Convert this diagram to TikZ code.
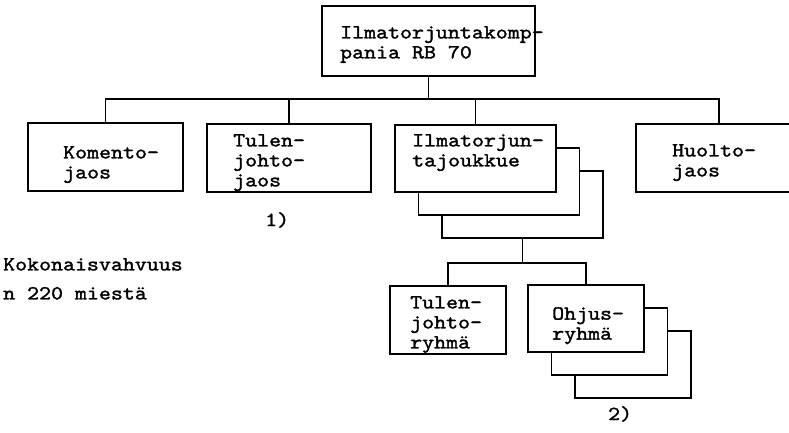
\documentclass[tikz,border=0pt]{standalone}
\usepackage{fontspec}
\setmonofont{lmmono10-regular.otf}[FakeStretch=1.14,FakeBold=1.5]
\begin{document}
\begin{tikzpicture}[x=1pt, y=-1pt,
    unit/.style={draw, fill=white, line width=1.4pt, outer sep=0pt, inner sep=0pt,
      anchor=north west, minimum height=68pt},
    link/.style={line width=1.4pt},
    txt/.style={font=\ttfamily\fontsize{20}{20}\selectfont, align=left,
      anchor=north west, inner sep=0pt},
  ]
  \useasboundingbox (0,0) rectangle (789,432);
  \clip (0,0) rectangle (789,432);

  \def\dx{23.5} % offset of the stacked boxes
  \def\dy{23}

  % --- Company ---
  \node[unit, minimum width=213pt, minimum height=70pt] (kompania) at (322,6) {};
  \node[txt] (kompaniaT) at (340,26) {Ilmatorjuntakomp-\\pania RB 70};

  % --- Sections ---
  \node[unit, minimum width=155pt] (komento) at (28,123) {};
  \node[txt] (komentoT) at (63,146) {Komento-\\jaos};

  \node[unit, minimum width=164pt] (tulenjaos) at (207,124) {};
  \node[txt] (tulenjaosT) at (233,134) {Tulen-\\johto-\\jaos};

  \foreach \i in {2,1} {
    \node[unit, minimum width=161pt, minimum height=67pt] (joukkue\i)
      at (395+\i*\dx, 125+\i*\dy) {};
  }
  \node[unit, minimum width=161pt, minimum height=67pt] (joukkue) at (395,125) {};
  \node[txt] (joukkueT) at (412,134) {Ilmatorjun-\\tajoukkue};

  \node[unit, minimum width=166pt] (huolto) at (636,124) {};
  \node[txt] (huoltoT) at (672,144) {Huolto-\\jaos};

  % Links to the company
  \coordinate (busA) at (0,99);
  \draw[link] (kompania.south) -- (kompania.south |- busA);
  \draw[link] (komento.north) -- (komento.north |- busA)
    -- (huolto.north |- busA) -- (huolto.north);
  \draw[link] (tulenjaos.north) -- (tulenjaos.north |- busA);
  \draw[link] (joukkue.north) -- (joukkue.north |- busA);

  % --- Platoon ---
  \node[unit, minimum width=116pt] (ryhma) at (390,286) {};
  \node[txt] (ryhmaT) at (410,296) {Tulen-\\johto-\\ryhmä};

  \foreach \i in {2,1} {
    \node[unit, minimum width=116pt, minimum height=67pt] (ohjus\i)
      at (528+\i*\dx, 285+\i*\dy) {};
  }
  \node[unit, minimum width=116pt, minimum height=67pt] (ohjus) at (528,285) {};
  \node[txt] (ohjusT) at (552,307) {Ohjus-\\ryhmä};

  \coordinate (busB) at (0,263);
  \draw[link] (joukkue2.south) -- (joukkue2.south |- busB);
  \draw[link] (ryhma.north) -- (ryhma.north |- busB)
    -- (ohjus.north |- busB) -- (ohjus.north);

  % Notes
  \node[txt] (note1) at (265,212) {1)};
  \node[txt] (note2) at (608,406) {2)};
  \node[txt] (vahvuus) at (3,258) {Kokonaisvahvuus\\[9pt]n 220 miestä};

\end{tikzpicture}
\end{document}
